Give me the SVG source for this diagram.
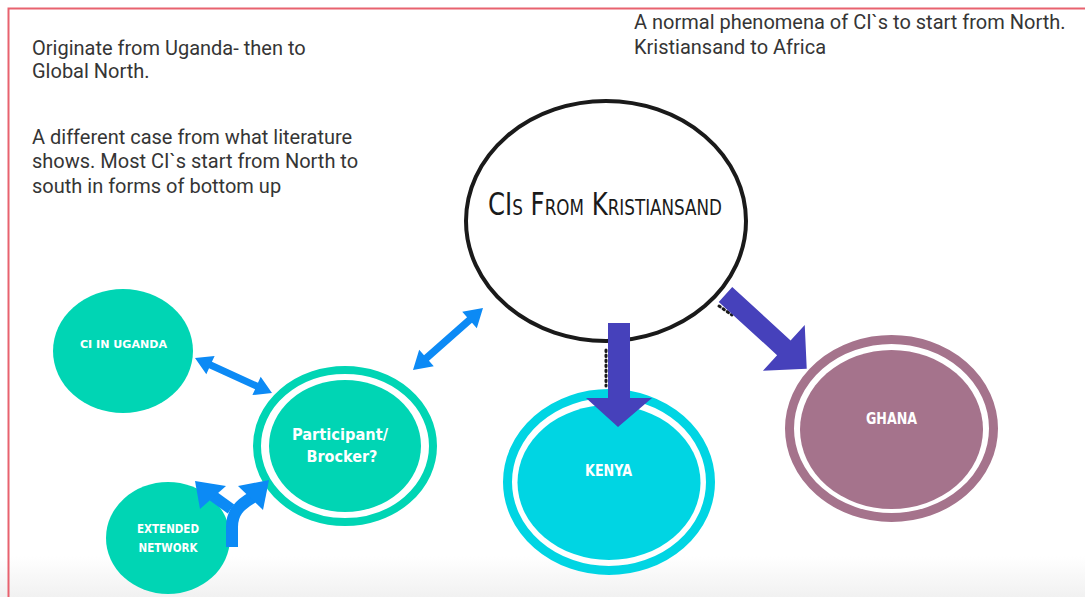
<svg xmlns="http://www.w3.org/2000/svg" width="1085" height="597" viewBox="0 0 1085 597">
  <defs>
    <linearGradient id="floor" x1="0" y1="0" x2="0" y2="1">
      <stop offset="0" stop-color="#ffffff"/>
      <stop offset="1" stop-color="#f1f1f1"/>
    </linearGradient>
    <style>
      .note { font-family: Roboto, "Liberation Sans", sans-serif; font-size: 20px; fill: #353535; }
      .title { font-family: "Liberation Sans Narrow", "DejaVu Sans Condensed", "Liberation Sans", sans-serif; font-size: 32px; font-variant: small-caps; fill: #1a1a1a; text-anchor: middle; }
      .label { font-family: "DejaVu Sans Condensed", "Liberation Sans Narrow", "DejaVu Sans", sans-serif; font-weight: bold; fill: #ffffff; text-anchor: middle; }
      .teal { fill: #00d5b4; }
      .ring-teal { fill: none; stroke: #00d5b4; stroke-width: 8; }
      .cyan { fill: #00d5e3; }
      .ring-cyan { fill: none; stroke: #00d5e3; stroke-width: 9; }
      .mauve { fill: #a5738c; }
      .ring-mauve { fill: none; stroke: #a5738c; stroke-width: 9; }
      .blue { fill: #0c8af5; }
      .blue-line { fill: none; stroke: #0c8af5; }
      .purple { fill: #4641bb; }
      .dots { stroke: #1a1a1a; stroke-width: 3; stroke-dasharray: 1.5 3.5; stroke-linecap: round; fill: none; }
    </style>
  </defs>

  <!-- page background and frame -->
  <rect x="0" y="0" width="1085" height="597" fill="#ffffff"/>
  <rect x="0" y="556" width="1085" height="41" fill="url(#floor)"/>
  <rect x="8.5" y="8.5" width="1100" height="700" fill="none" stroke="#e8626f" stroke-width="2"/>

  <!-- free text notes -->
  <g id="note-origin">
    <text class="note" x="32" y="55">Originate from Uganda- then to</text>
    <text class="note" x="32" y="78">Global North.</text>
  </g>
  <g id="note-literature">
    <text class="note" x="32" y="144">A different case from what literature</text>
    <text class="note" x="32" y="168">shows. Most CI`s start from North to</text>
    <text class="note" x="32" y="193">south in forms of bottom up</text>
  </g>
  <g id="note-normal">
    <text class="note" x="634" y="29">A normal phenomena of CI`s to start from North.</text>
    <text class="note" x="634" y="54">Kristiansand to Africa</text>
  </g>

  <!-- nodes -->
  <g id="node-kristiansand">
    <ellipse cx="606" cy="221" rx="140" ry="120" fill="#ffffff" stroke="#1a1a1a" stroke-width="4"/>
    <text class="title" x="605" y="215" textLength="234" lengthAdjust="spacingAndGlyphs">CIs From Kristiansand</text>
  </g>

  <g id="node-uganda">
    <ellipse class="teal" cx="123" cy="351" rx="70" ry="62"/>
    <text class="label" x="123.5" y="348" font-size="11" textLength="87" lengthAdjust="spacingAndGlyphs">CI IN UGANDA</text>
  </g>

  <g id="node-participant">
    <ellipse class="ring-teal" cx="345" cy="446" rx="88" ry="76"/>
    <ellipse class="teal" cx="345" cy="446" rx="76" ry="66"/>
    <text class="label" x="340" y="440" font-size="16" textLength="96" lengthAdjust="spacingAndGlyphs">Participant/</text>
    <text class="label" x="342" y="462" font-size="16" textLength="71" lengthAdjust="spacingAndGlyphs">Brocker?</text>
  </g>

  <g id="node-extended">
    <ellipse class="teal" cx="168" cy="538" rx="62" ry="56"/>
    <text class="label" x="168" y="533" font-size="12" textLength="62" lengthAdjust="spacingAndGlyphs">EXTENDED</text>
    <text class="label" x="168" y="552" font-size="12" textLength="59" lengthAdjust="spacingAndGlyphs">NETWORK</text>
  </g>

  <g id="node-kenya">
    <ellipse class="ring-cyan" cx="609" cy="482" rx="101.5" ry="88.5"/>
    <ellipse class="cyan" cx="609" cy="482.5" rx="91.5" ry="77.5"/>
    <text class="label" x="608.5" y="476" font-size="16" textLength="47" lengthAdjust="spacingAndGlyphs">KENYA</text>
  </g>

  <g id="node-ghana">
    <ellipse class="ring-mauve" cx="891.5" cy="428.5" rx="102" ry="89"/>
    <ellipse class="mauve" cx="891.5" cy="429.5" rx="91.5" ry="79.5"/>
    <text class="label" x="891.5" y="424" font-size="16" textLength="51" lengthAdjust="spacingAndGlyphs">GHANA</text>
  </g>

  <!-- connectors -->
  <g id="connectors">
    <!-- two-headed arrows -->
    <path class="blue" transform="translate(195,358) rotate(24.44)"
          d="M0,0 L17,-10 L17,-3.5 L67.6,-3.5 L67.6,-10 L84.6,0 L67.6,10 L67.6,3.5 L17,3.5 L17,10 Z"/>
    <path class="blue" transform="translate(413,370) rotate(-41.53)"
          d="M0,0 L18,-11 L18,-3.7 L75.5,-3.7 L75.5,-11 L93.5,0 L75.5,11 L75.5,3.7 L18,3.7 L18,11 Z"/>

    <!-- split arrow out of the extended network -->
    <path class="blue-line" stroke-width="12" d="M232,547 L232,527 C232,513 239,505 253,497"/>
    <path class="blue-line" stroke-width="11" d="M231,509 L213,496"/>
    <polygon class="blue" points="269,480 238,486 263,510"/>
    <polygon class="blue" points="195,481 226,486 200,509"/>

    <!-- Kristiansand to Kenya -->
    <path class="dots" d="M606,350 L606,386"/>
    <path class="purple" d="M608,323 L630,323 L630,398 L652,398 L618,427 L586,398 L608,398 Z"/>

    <!-- Kristiansand to Ghana -->
    <path class="dots" d="M719,306 L732,315"/>
    <path class="purple" transform="translate(725.5,294.5) rotate(42.4)"
          d="M0,-10 L79,-10 L79,-31 L110,0 L79,31 L79,10 L0,10 Z"/>
  </g>
</svg>
